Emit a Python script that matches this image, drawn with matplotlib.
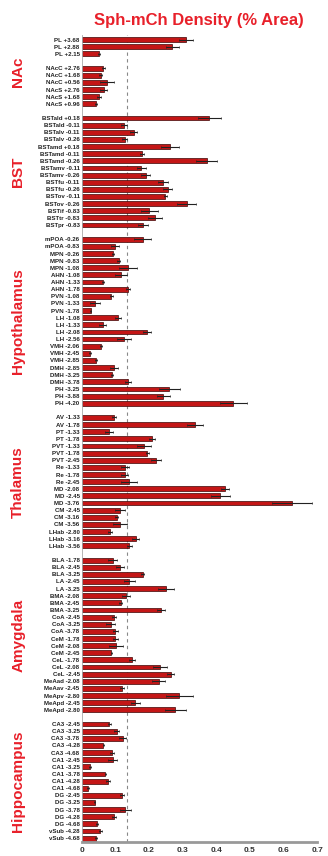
import matplotlib.pyplot as plt

plt.rcParams['font.family'] = ['Liberation Sans', 'DejaVu Sans']

# Sph-mCh density per region (mean % area and SEM), grouped by brain area
nac_labels = ['PL +3.68', 'PL +2.88', 'PL +2.15', None,
              'NAcC +2.76', 'NAcC +1.68', 'NAcC +0.56',
              'NAcS +2.76', 'NAcS +1.68', 'NAcS +0.96']
nac_mean = [0.31, 0.27, 0.052, None, 0.064, 0.057, 0.076, 0.066, 0.052, 0.042]
nac_sem = [0.02, 0.02, 0.003, None, 0.004, 0.004, 0.02, 0.01, 0.005, 0.003]

bst_labels = ['BSTald +0.18', 'BSTald -0.11', 'BSTalv -0.11', 'BSTalv -0.26',
              'BSTamd +0.18', 'BSTamd -0.11', 'BSTamd -0.26', 'BSTamv -0.11',
              'BSTamv -0.26', 'BSTfu -0.11', 'BSTfu -0.26', 'BSTov -0.11',
              'BSTov -0.26', 'BSTif -0.83', 'BSTtr -0.83', 'BSTpr -0.83']
bst_mean = [0.38, 0.126, 0.155, 0.128, 0.263, 0.18, 0.372, 0.177,
            0.19, 0.241, 0.256, 0.249, 0.3125, 0.201, 0.219, 0.183]
bst_sem = [0.034, 0.008, 0.01, 0.008, 0.027, 0.006, 0.032, 0.013,
           0.013, 0.015, 0.013, 0.004, 0.028, 0.025, 0.021, 0.015]

hyp_labels = ['mPOA -0.26', 'mPOA -0.83', 'MPN -0.26', 'MPN -0.83', 'MPN -1.08',
              'AHN -1.08', 'AHN -1.33', 'AHN -1.78', 'PVN -1.08', 'PVN -1.33',
              'PVN -1.78', 'LH -1.08', 'LH -1.33', 'LH -2.08', 'LH -2.56',
              'VMH -2.06', 'VMH -2.45', 'VMH -2.85', 'DMH -2.85', 'DMH -3.25',
              'DMH -3.78', 'PH -3.25', 'PH -3.88', 'PH -4.20']
hyp_mean = [0.181, 0.099, 0.094, 0.11, 0.137, 0.116, 0.064, 0.138, 0.088, 0.039,
            0.027, 0.108, 0.0625, 0.193, 0.126, 0.058, 0.025, 0.043, 0.096, 0.09,
            0.137, 0.261, 0.243, 0.451]
hyp_sem = [0.024, 0.013, 0.003, 0.005, 0.027, 0.018, 0.003, 0.005, 0.005, 0.015,
           0.002, 0.008, 0.01, 0.012, 0.02, 0.003, 0.002, 0.002, 0.012, 0.002,
           0.009, 0.032, 0.02, 0.04]

tha_labels = ['AV -1.33', 'AV -1.78', 'PT -1.33', 'PT -1.78', 'PVT -1.33',
              'PVT -1.78', 'PVT -2.45', 'Re -1.33', 'Re -1.78', 'Re -2.45',
              'MD -2.08', 'MD -2.45', 'MD -3.76', 'CM -2.45', 'CM -3.16',
              'CM -3.56', 'LHab -2.80', 'LHab -3.16', 'LHab -3.56']
tha_mean = [0.096, 0.337, 0.082, 0.209, 0.185, 0.195, 0.221, 0.128, 0.128, 0.14,
            0.427, 0.412, 0.625, 0.114, 0.104, 0.114, 0.084, 0.161, 0.142]
tha_sem = [0.005, 0.025, 0.012, 0.01, 0.02, 0.005, 0.016, 0.012, 0.01, 0.024,
           0.012, 0.028, 0.059, 0.016, 0.005, 0.02, 0.005, 0.011, 0.008]

amy_labels = ['BLA -1.78', 'BLA -2.45', 'BLA -3.25', 'LA -2.45', 'LA -3.25',
              'BMA -2.08', 'BMA -2.45', 'BMA -3.25', 'CoA -2.45', 'CoA -3.25',
              'CoA -3.78', 'CeM -1.78', 'CeM -2.08', 'CeM -2.45', 'CeL -1.78',
              'CeL -2.08', 'CeL -2.45', 'MeAad -2.08', 'MeAav -2.45',
              'MeApv -2.80', 'MeApd -2.45', 'MeApd -2.80']
amy_mean = [0.092, 0.114, 0.181, 0.142, 0.251, 0.132, 0.116, 0.237, 0.096, 0.086,
            0.1, 0.1, 0.102, 0.088, 0.15, 0.233, 0.265, 0.229, 0.12, 0.29,
            0.16, 0.279]
amy_sem = [0.014, 0.012, 0.005, 0.016, 0.024, 0.012, 0.005, 0.012, 0.005, 0.014,
           0.008, 0.008, 0.022, 0.002, 0.01, 0.02, 0.01, 0.02, 0.005, 0.04,
           0.013, 0.03]

hip_labels = ['CA3 -2.45', 'CA3 -3.25', 'CA3 -3.78', 'CA3 -4.28', 'CA3 -4.68',
              'CA1 -2.45', 'CA1 -3.25', 'CA1 -3.78', 'CA1 -4.28', 'CA1 -4.68',
              'DG -2.45', 'DG -3.25', 'DG -3.78', 'DG -4.28', 'DG -4.68',
              'vSub -4.28', 'vSub -4.68']
hip_mean = [0.082, 0.104, 0.122, 0.064, 0.09, 0.092, 0.025, 0.07, 0.078, 0.019,
            0.12, 0.039, 0.13, 0.096, 0.046, 0.056, 0.043]
hip_sem = [0.005, 0.008, 0.01, 0.002, 0.005, 0.014, 0.002, 0.002, 0.005, 0.002,
           0.005, 0.002, 0.016, 0.005, 0.002, 0.005, 0.002]

groups = [
    ('NAc', nac_labels, nac_mean, nac_sem),
    ('BST', bst_labels, bst_mean, bst_sem),
    ('Hypothalamus', hyp_labels, hyp_mean, hyp_sem),
    ('Thalamus', tha_labels, tha_mean, tha_sem),
    ('Amygdala', amy_labels, amy_mean, amy_sem),
    ('Hippocampus', hip_labels, hip_mean, hip_sem),
]

threshold = 0.135
red = '#c41616'

# lay the rows out top to bottom, one empty slot between groups
pos, labels, means, sems, centers = [], [], [], [], []
row = 0
for name, lab, m, s in groups:
    first = row
    for l, v, e in zip(lab, m, s):
        if l is not None:
            pos.append(row)
            labels.append(l)
            means.append(v)
            sems.append(e)
        row += 1
    centers.append((name, (first + row - 1) / 2))
    row += 1

fig = plt.figure(figsize=(3.28, 8.56), dpi=100)
ax = fig.add_axes([0.249, 0.0167, 0.7175, 0.942])

ax.axvline(threshold, color='#888888', lw=0.8, ls=(0, (3, 3)), zorder=1)
ax.barh(pos, means, height=0.68, color=red, edgecolor='#3c0505',
        linewidth=0.5, zorder=2)
ax.errorbar(means, pos, xerr=sems, fmt='none', ecolor='#222222',
            elinewidth=0.8, capsize=1.0, capthick=0.5, zorder=3)

ax.set_xlim(0, 0.7)
ax.set_ylim(row - 1 - 0.5, -0.6)
ax.set_xticks([0, 0.1, 0.2, 0.3, 0.4, 0.5, 0.6, 0.7])
ax.set_xticklabels(['0', '0.1', '0.2', '0.3', '0.4', '0.5', '0.6', '0.7'],
                   fontsize=6, fontweight='bold', color='#333333')
ax.set_yticks(pos)
ax.set_yticklabels(labels, fontsize=4.4, fontweight='bold', color='#222222')
ax.tick_params(axis='y', length=0, pad=1.5)
ax.tick_params(axis='x', length=0, pad=4)

for side in ['top', 'right']:
    ax.spines[side].set_visible(False)
ax.spines['bottom'].set_color('#999999')
ax.spines['bottom'].set_linewidth(2)
ax.spines['left'].set_color('#aaaaaa')
ax.spines['left'].set_linewidth(0.6)

# group names down the left side
for name, c in centers:
    ax.text(-0.27, c, name, rotation=90, ha='center', va='center',
            fontsize=11, fontweight='bold', color='#e8202a',
            transform=ax.get_yaxis_transform())

fig.text(0.607, 0.976, 'Sph-mCh Density (% Area)', ha='center', va='center',
         fontsize=12, fontweight='bold', color='#e8202a')

fig.savefig('out.png', dpi=100)
